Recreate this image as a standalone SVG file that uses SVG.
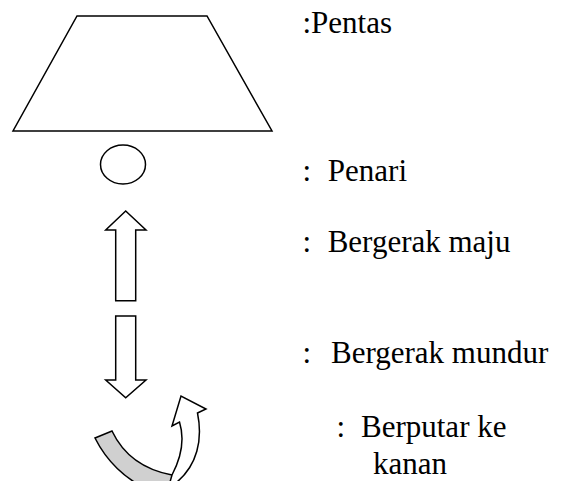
<svg xmlns="http://www.w3.org/2000/svg" width="563" height="481" viewBox="0 0 563 481">
<style>
.shape{fill:#fff;stroke:#000;stroke-width:1.5;stroke-linejoin:miter}
.lbl{font-family:"Liberation Serif","Times New Roman",serif;font-size:31px;fill:#000;white-space:pre}
</style>
<rect width="563" height="481" fill="#fff"/>
<g id="pentas"><polygon class="shape" points="77,16 207,16 272,131 13,131"/></g>
<g id="penari"><ellipse class="shape" cx="123" cy="164.5" rx="22.5" ry="19.5"/></g>
<g id="maju"><polygon class="shape" points="125.7,211 146,230 135.7,230 135.7,300.7 115.7,300.7 115.7,230 105.7,230"/></g>
<g id="mundur"><polygon class="shape" points="115.7,316 135.7,316 135.7,380 146,380 125.7,397.7 105.7,380 115.7,380"/></g>
<g id="putar">
<path d="M95,438 L112,431 C122,452 140,469 172,475 L182,490 L150,490 C125,480 106,460 95,438 Z" fill="#d0d0d0" stroke="#000" stroke-width="1.5"/>
<path class="shape" d="M172,475 C181,458 185,440 179.5,422 L172,426 L181,396 L206,409 L197.5,413 C203,440 197,465 177,482 L170,482 Z"/>
</g>
<g id="labels">
<text class="lbl" x="302.5" y="33">:Pentas</text>
<text class="lbl" x="302.5" y="181">:  <tspan x="327.8">Penari</tspan></text>
<text class="lbl" x="302.5" y="252">:  <tspan x="327.7">Bergerak maju</tspan></text>
<text class="lbl" x="302.5" y="363">:  <tspan x="331">Bergerak mundur</tspan></text>
<text class="lbl" x="336.5" y="437">:  <tspan x="361">Berputar ke</tspan></text>
<text class="lbl" x="373" y="474">kanan</text>
</g>
</svg>
